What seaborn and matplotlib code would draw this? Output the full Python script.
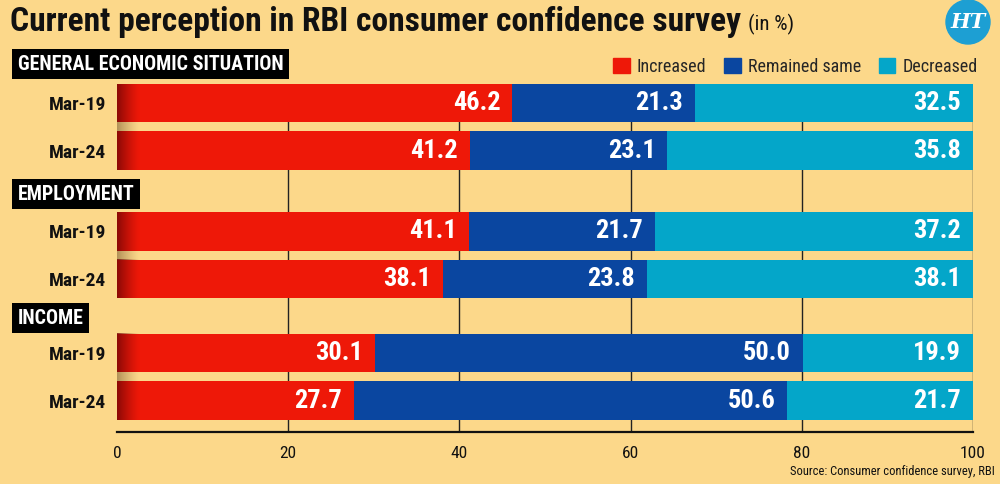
import numpy as np
import pandas as pd
import matplotlib
matplotlib.use("Agg")
import matplotlib.pyplot as plt
from matplotlib.patches import Patch, Ellipse
import seaborn as sns

#%% Data
groups = ["GENERAL ECONOMIC SITUATION", "EMPLOYMENT", "INCOME"]
periods = ["Mar-19", "Mar-24"]
increased = [46.2, 41.2, 41.1, 38.1, 30.1, 27.7]
remained = [21.3, 23.1, 21.7, 23.8, 50.0, 50.6]
decreased = [32.5, 35.8, 37.2, 38.1, 19.9, 21.7]
xticks = [0, 20, 40, 60, 80, 100]

#%% Style
bg = "#fcd88a"
c_inc = "#ee1808"
c_rem = "#0a46a0"
c_dec = "#04a6c9"
ypos = [0, 1, 2.7, 3.7, 5.26, 6.26]   # bar rows (in data units)
bar_h = 0.81

sns.set_theme(style="white")
plt.rcParams['font.family'] = ['Roboto Condensed', 'Roboto', 'DejaVu Sans']


def fit_width(txt, target_px):
    # shrink/grow a text so that it spans target_px pixels
    fig.canvas.draw()
    w = txt.get_window_extent().width
    txt.set_fontsize(txt.get_fontsize() * target_px / w)


df = pd.DataFrame({
    "pos": ypos,
    "group": np.repeat(groups, 2),
    "period": periods * 3,
    "inc": increased,
    "rem": remained,
    "dec": decreased,
})
df["cum_rem"] = df["inc"] + df["rem"]
df["cum_dec"] = df["cum_rem"] + df["dec"]

fig = plt.figure(figsize=(10, 4.84), dpi=100, facecolor=bg)
ax = fig.add_axes([0.117, 1 - 432 / 484, 0.856, 348 / 484])
ax.set_facecolor(bg)

# stacked bars: draw totals first, then overlay the shorter sums
for col, colr in [("cum_dec", c_dec), ("cum_rem", c_rem), ("inc", c_inc)]:
    sns.barplot(data=df, x=col, y="pos", orient="h", native_scale=True,
                color=colr, saturation=1, width=bar_h, errorbar=None,
                linewidth=0, zorder=2, ax=ax)

# dark shading at the left end of the red bars + shadow in the gaps
n = 64
fade = np.linspace(1, 0, n) ** 1.3
dark = np.zeros((1, n, 4))
dark[..., 0] = 0.45
dark[..., 1] = 0.02
dark[..., 2] = 0.02
dark[..., 3] = 0.8 * fade
shadow = np.zeros((1, n, 4))
shadow[..., 0] = 0.62
shadow[..., 1] = 0.50
shadow[..., 2] = 0.30
shadow[..., 3] = 0.8 * fade
for p in ypos:
    ax.imshow(dark, extent=(0, 2.6, p + bar_h / 2, p - bar_h / 2),
              aspect="auto", zorder=3, interpolation="bilinear")
for p in ypos[::2]:
    ax.imshow(shadow, extent=(0, 2.6, p + 1 - bar_h / 2, p + bar_h / 2),
              aspect="auto", zorder=1, interpolation="bilinear")

# value labels
pad = 1.4
for _, r in df.iterrows():
    for end, val in [(r["inc"], r["inc"]), (r["cum_rem"], r["rem"]),
                     (min(r["cum_dec"], 100), r["dec"])]:
        ax.text(end - pad, r["pos"], f"{val:.1f}", ha="right", va="center",
                color="white", fontsize=19, fontweight="bold", zorder=4)

ax.set_xlim(0, 100)
ax.set_ylim(6.92, -0.4)
ax.set_xticks(xticks)
ax.set_xticklabels([str(t) for t in xticks], fontsize=12.5)
ax.set_yticks(ypos)
ax.set_yticklabels(df["period"], fontsize=14, fontweight="bold")
ax.tick_params(axis="both", length=0, colors="#111111")
ax.tick_params(axis="y", pad=8)
ax.tick_params(axis="x", pad=10)
ax.set_xlabel("")
ax.set_ylabel("")
for t in xticks[1:]:
    ax.axvline(t, color="#222222", lw=1, zorder=0.5)
for s in ["top", "right", "left"]:
    ax.spines[s].set_visible(False)
ax.spines["bottom"].set_color("#111111")
ax.spines["bottom"].set_linewidth(1.6)

# section headers
heads = []
for name, ypx in zip(groups, [64, 194, 318]):
    heads.append(fig.text(0.018, 1 - ypx / 484, name, color="white", fontsize=14,
                          fontweight="bold", va="center", ha="left",
                          bbox=dict(facecolor="black", edgecolor="none",
                                    boxstyle="square,pad=0.25")))
fig.canvas.draw()
w0 = heads[0].get_window_extent().width
for h in heads:
    h.set_fontsize(14 * 267 / w0)
    h.get_bbox_patch().set_boxstyle("square", pad=0.28)

# legend
handles = [Patch(color=c_inc), Patch(color=c_rem), Patch(color=c_dec)]
fig.legend(handles, ["Increased", "Remained same", "Decreased"], ncol=3,
           loc="center right", bbox_to_anchor=(0.987, 1 - 67 / 484),
           frameon=False, fontsize=13, handlelength=0.9, handleheight=0.9,
           handletextpad=0.4, columnspacing=1.0, borderpad=0)

# title
title = fig.text(0.010, 1 - 22 / 484, "Current perception in RBI consumer confidence survey",
                 fontsize=26, fontweight="bold", color="#111111", va="center", ha="left")
fit_width(title, 732)
sub = fig.text(0.75, 1 - 24 / 484, "(in %)", fontsize=15,
               color="#111111", va="center", ha="left")
fig.canvas.draw()
bb = title.get_window_extent()
sub.set_x((bb.x1 + 7) / fig.bbox.width)

# HT logo
fig.add_artist(Ellipse((0.968, 1 - 22 / 484), 44 / 1000, 44 / 484,
                       transform=fig.transFigure, color="#1d9fd3"))
fig.text(0.968, 1 - 22 / 484, "HT", color="white", fontsize=15, fontweight="bold",
         fontstyle="italic", family="DejaVu Serif", ha="center", va="center")

# source
src = fig.text(0.995, 1 - 472 / 484, "Source: Consumer confidence survey, RBI",
               fontsize=10, ha="right", va="center", color="#111111")
fit_width(src, 203)

fig.savefig("out.png", dpi=100, facecolor=bg)
